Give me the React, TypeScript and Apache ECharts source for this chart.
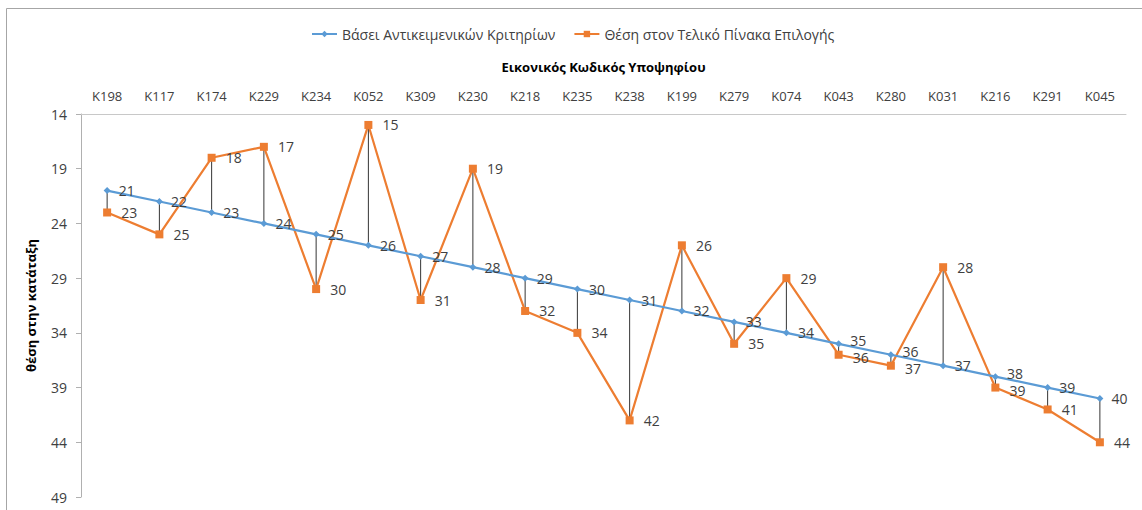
import React, { useEffect, useRef } from "react";
import * as echarts from "echarts";

const categories = ["K198","K117","K174","K229","K234","K052","K309","K230","K218","K235","K238","K199","K279","K074","K043","K280","K031","K216","K291","K045"];
const objectiveRank = [21,22,23,24,25,26,27,28,29,30,31,32,33,34,35,36,37,38,39,40];
const finalRank = [23,25,18,17,30,15,31,19,32,34,42,26,35,29,36,37,28,39,41,44];
const yTicks = [14,19,24,29,34,39,44,49];

const seriesNames = ["Βάσει Αντικειμενικών Κριτηρίων", "Θέση στον Τελικό Πίνακα Επιλογής"];
const xTitle = "Εικονικός Κωδικός Υποψηφίου";
const yTitle = "θέση στην κατάταξη";

const FONT = "Open Sans";
const TXT = "#404040";

export default function App() {
  const ref = useRef<HTMLDivElement>(null);
  useEffect(() => {
    if (!ref.current) return;
    const chart = echarts.init(ref.current, null, { renderer: "svg" });
    const dropData = categories.map((_, i) => [i, objectiveRank[i], finalRank[i]]);
    const close = (i: number) => Math.abs(objectiveRank[i] - finalRank[i]) <= 1;
    const blueData = objectiveRank.map((v, i) =>
      close(i) ? { value: v, label: { offset: [0, -3] } } : v
    );
    const orangeData = finalRank.map((v, i) =>
      close(i) ? { value: v, label: { offset: [0, 3] } } : v
    );
    chart.setOption({
      animation: false,
      textStyle: { fontFamily: FONT },
      graphic: [
        {
          type: "rect",
          shape: { x: 6.5, y: 8.5, width: 1300, height: 700 },
          style: { fill: "none", stroke: "#A6A6A6", lineWidth: 1 },
          silent: true,
        },
      ],
      legend: {
        data: seriesNames,
        top: 22,
        left: 306,
        itemWidth: 25,
        itemHeight: 8,
        itemGap: 18,
        textStyle: { fontFamily: FONT, fontSize: 14, color: TXT },
      },
      grid: { left: 81, right: 16, top: 114, bottom: 13, containLabel: false },
      xAxis: {
        type: "category",
        position: "top",
        data: categories,
        name: xTitle,
        nameLocation: "middle",
        nameGap: 41,
        nameTextStyle: { fontFamily: FONT, fontSize: 13, fontWeight: "bold", color: "#000" },
        axisLine: { show: true, lineStyle: { color: "#C8C8C8", width: 1 } },
        axisTick: { show: false },
        axisLabel: { color: TXT, fontSize: 13, fontFamily: FONT, margin: 12, interval: 0 },
        splitLine: { show: false },
      },
      yAxis: {
        type: "value",
        inverse: true,
        min: 14,
        max: 49,
        name: yTitle,
        nameLocation: "middle",
        nameGap: 44,
        nameRotate: 90,
        nameTextStyle: { fontFamily: FONT, fontSize: 13, fontWeight: "bold", color: "#000" },
        axisLine: { show: true, lineStyle: { color: "#B0B0B0", width: 1 } },
        axisTick: { show: true, length: 5, customValues: yTicks, lineStyle: { color: "#B0B0B0" } },
        axisLabel: { color: TXT, fontSize: 14, fontFamily: FONT, margin: 14, customValues: yTicks },
        splitLine: { show: false },
      },
      series: [
        {
          type: "custom",
          name: "drop",
          data: dropData,
          encode: { x: 0, y: [1, 2] },
          z: 1,
          silent: true,
          renderItem: (params: any, api: any) => {
            const a = api.coord([api.value(0), api.value(1)]);
            const b = api.coord([api.value(0), api.value(2)]);
            return {
              type: "line",
              shape: { x1: a[0], y1: a[1], x2: b[0], y2: b[1] },
              style: { stroke: "#000", lineWidth: 0.8 },
            };
          },
        },
        {
          type: "line",
          name: seriesNames[0],
          data: blueData,
          z: 3,
          symbol: "diamond",
          symbolSize: 7,
          itemStyle: { color: "#5B9BD5" },
          lineStyle: { color: "#5B9BD5", width: 2.2 },
          label: { show: true, position: "right", distance: 8, color: TXT, fontSize: 14, fontFamily: FONT },
        },
        {
          type: "line",
          name: seriesNames[1],
          data: orangeData,
          z: 2,
          symbol: "rect",
          symbolSize: 8,
          itemStyle: { color: "#ED7D31" },
          lineStyle: { color: "#ED7D31", width: 2.2 },
          label: { show: true, position: "right", distance: 10, color: TXT, fontSize: 14, fontFamily: FONT },
        },
      ],
    });
    return () => chart.dispose();
  }, []);
  return (
    <div
      ref={ref}
      style={{ position: "absolute", left: 0, top: 0, width: 1142, height: 510, background: "#fff" }}
    />
  );
}
